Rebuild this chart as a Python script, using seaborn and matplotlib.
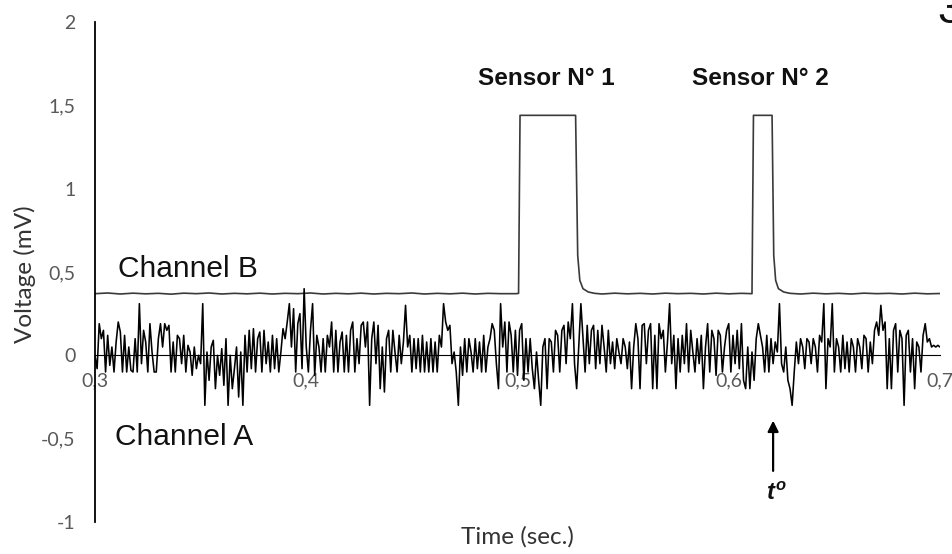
import numpy as np
import pandas as pd
import matplotlib
matplotlib.use("Agg")
import matplotlib.pyplot as plt
import seaborn as sns

# ---------------- data ----------------
channel_a = [
    0.00, -0.08, 0.19, 0.10, 0.15, -0.10, 0.12, -0.06, 0.05, -0.10, 0.08, 0.20, 0.14, -0.10, 0.12, -0.10, 0.05, -0.09, -0.10, 0.10,
    -0.10, 0.31, -0.05, 0.15, 0.08, -0.10, 0.19, 0.02, -0.10, -0.10, 0.10, 0.19, 0.05, 0.19, 0.15, 0.18, -0.10, 0.08, -0.10, 0.12,
    0.10, -0.05, 0.12, -0.10, 0.06, 0.02, -0.12, 0.05, -0.08, 0.00, -0.05, 0.31, -0.30, 0.02, -0.15, 0.05, 0.09, -0.20, 0.00, -0.12,
    0.04, -0.18, 0.10, -0.30, 0.00, -0.20, -0.08, 0.05, -0.25, 0.02, -0.30, 0.12, -0.10, 0.15, -0.08, 0.16, -0.10, 0.10, 0.14, -0.10,
    0.15, -0.05, 0.08, -0.10, 0.12, -0.08, 0.10, -0.10, 0.02, 0.16, 0.10, 0.20, 0.31, 0.05, 0.28, -0.10, 0.19, 0.25, -0.08, 0.40,
    0.05, -0.10, 0.15, 0.31, -0.12, 0.12, 0.05, -0.10, 0.10, -0.10, 0.12, 0.05, 0.20, -0.10, 0.15, -0.10, 0.08, 0.14, -0.10, 0.12,
    -0.10, 0.15, 0.20, -0.10, 0.10, -0.05, 0.18, 0.20, 0.05, 0.20, -0.30, 0.10, 0.20, -0.05, 0.18, -0.20, 0.05, -0.22, 0.10, 0.15,
    -0.10, 0.15, 0.02, -0.10, 0.12, -0.05, 0.08, 0.30, 0.05, 0.12, -0.10, 0.10, -0.08, 0.10, -0.10, 0.12, -0.10, 0.08, -0.10, 0.10,
    -0.10, 0.08, -0.10, 0.12, 0.05, 0.31, 0.20, 0.15, 0.18, -0.05, 0.02, -0.10, -0.30, 0.05, -0.12, 0.10, -0.10, 0.10, 0.02, -0.10,
    0.10, -0.08, 0.08, -0.10, 0.12, -0.10, 0.05, 0.10, 0.19, 0.15, -0.05, -0.20, 0.31, 0.05, 0.20, -0.10, 0.20, 0.12, -0.10, 0.15,
    -0.12, 0.15, 0.19, -0.15, 0.10, -0.10, 0.10, -0.08, -0.20, 0.02, -0.15, -0.30, 0.05, 0.10, -0.20, 0.10, 0.08, -0.10, 0.15, 0.12,
    -0.10, 0.15, 0.18, -0.05, 0.20, 0.10, 0.31, -0.05, -0.20, 0.05, 0.31, 0.10, -0.10, 0.18, -0.05, 0.15, 0.18, -0.08, 0.15, -0.05,
    0.18, 0.05, -0.10, 0.15, -0.05, 0.08, -0.08, 0.10, 0.02, -0.05, 0.10, 0.05, -0.08, 0.08, -0.20, 0.05, 0.19, 0.10, -0.20, 0.18,
    0.19, -0.05, 0.15, 0.19, -0.20, 0.12, -0.20, 0.19, 0.10, 0.15, -0.10, 0.08, 0.31, -0.05, 0.12, -0.20, 0.10, -0.10, 0.12, -0.05,
    0.19, -0.10, 0.15, 0.02, -0.10, 0.10, -0.05, 0.12, -0.20, 0.05, 0.19, -0.10, 0.15, 0.10, -0.12, 0.15, 0.12, -0.10, 0.05, 0.15,
    0.19, -0.10, 0.12, -0.05, 0.15, -0.08, 0.19, -0.15, -0.20, 0.05, -0.20, 0.02, -0.15, 0.10, 0.19, 0.12, 0.05, -0.10, 0.12, -0.10,
    0.10, -0.05, 0.08, 0.02, 0.31, -0.05, -0.10, 0.05, -0.15, -0.20, -0.30, -0.10, 0.08, -0.05, 0.10, 0.05, -0.08, 0.10, 0.08, -0.05,
    0.10, 0.05, -0.10, 0.12, 0.08, 0.31, -0.20, 0.10, 0.05, 0.31, -0.10, 0.10, 0.05, -0.10, 0.12, -0.08, 0.08, -0.10, 0.10, 0.05,
    -0.10, 0.10, 0.05, -0.08, 0.12, 0.10, -0.10, 0.08, -0.05, 0.15, 0.20, 0.12, 0.30, 0.15, 0.20, -0.20, 0.10, -0.20, 0.15, 0.19,
    -0.10, 0.15, 0.10, -0.30, 0.12, 0.15, -0.10, 0.10, -0.20, 0.08, 0.05, -0.10, 0.12, 0.19, 0.08, 0.10, 0.05, 0.06, 0.05, 0.06,
    0.05,
]
channel_a_time = np.round(0.300 + 0.001 * np.arange(len(channel_a)), 3)

# Channel B: baseline with the two sensor pulses
channel_b_time = [
    0.300, 0.306, 0.312, 0.318, 0.324, 0.330, 0.336, 0.342, 0.348, 0.354, 0.360, 0.366, 0.372, 0.378,
    0.384, 0.390, 0.396, 0.402, 0.408, 0.414, 0.420, 0.426, 0.432, 0.438, 0.444, 0.450, 0.456, 0.462,
    0.468, 0.474, 0.480, 0.486, 0.492, 0.4995, 0.5005, 0.5012, 0.5275, 0.5285, 0.5295, 0.5310, 0.5335,
    0.5365, 0.540, 0.546, 0.552, 0.558, 0.564, 0.570, 0.576, 0.582, 0.588, 0.594, 0.600, 0.606, 0.6110,
    0.6117, 0.6205, 0.6213, 0.6222, 0.6235, 0.6260, 0.6290, 0.634, 0.640, 0.646, 0.652, 0.658, 0.664,
    0.670, 0.676, 0.682, 0.688, 0.694, 0.700,
]
channel_b = [
    0.370, 0.374, 0.368, 0.373, 0.369, 0.372, 0.367, 0.373, 0.370, 0.374, 0.368, 0.372, 0.369, 0.373,
    0.368, 0.372, 0.370, 0.374, 0.368, 0.372, 0.369, 0.373, 0.368, 0.372, 0.370, 0.374, 0.368, 0.372,
    0.369, 0.373, 0.368, 0.372, 0.370, 0.370, 0.372, 1.440, 1.440, 0.600, 0.450, 0.400, 0.380,
    0.372, 0.368, 0.373, 0.369, 0.372, 0.368, 0.373, 0.370, 0.372, 0.368, 0.373, 0.369, 0.372, 0.370,
    1.440, 1.440, 0.600, 0.450, 0.400, 0.380, 0.372, 0.368, 0.373, 0.369, 0.372, 0.368, 0.373,
    0.370, 0.372, 0.368, 0.373, 0.369, 0.371,
]

x_ticks = [0.3, 0.4, 0.5, 0.6, 0.7]
x_tick_labels = ["0,3", "0,4", "0,5", "0,6", "0,7"]
y_ticks = [-1, -0.5, 0, 0.5, 1, 1.5, 2]
y_tick_labels = ["-1", "-0,5", "0", "0,5", "1", "1,5", "2"]

df_a = pd.DataFrame({"time": channel_a_time, "voltage": channel_a})
df_b = pd.DataFrame({"time": channel_b_time, "voltage": channel_b})

# ---------------- plot ----------------
sns.set_theme(style="white")
plt.rcParams["font.family"] = ["Liberation Sans", "DejaVu Sans"]
plt.rcParams["mathtext.fontset"] = "custom"
plt.rcParams["mathtext.it"] = "Liberation Sans:italic:bold"
plt.rcParams["mathtext.rm"] = "Liberation Sans:bold"

fig = plt.figure(figsize=(9.52, 5.54), dpi=100)
ax = fig.add_axes([95 / 952, 32 / 554, 845 / 952, 500 / 554])

sns.lineplot(data=df_b, x="time", y="voltage", ax=ax, color="#3a3a3a", lw=1.2,
             sort=False, estimator=None)
sns.lineplot(data=df_a, x="time", y="voltage", ax=ax, color="black", lw=1.15,
             sort=False, estimator=None)

ax.set_xlim(0.3, 0.7)
ax.set_ylim(-1, 2)

for s in ["top", "right"]:
    ax.spines[s].set_visible(False)
ax.spines["bottom"].set_position(("data", 0))
ax.spines["bottom"].set_color("black")
ax.spines["bottom"].set_linewidth(0.8)
ax.spines["left"].set_color("black")
ax.spines["left"].set_linewidth(1.3)

ax.set_xticks(x_ticks)
ax.set_xticklabels(x_tick_labels, family=["Lato", "DejaVu Sans"], fontsize=14, color="#595959")
ax.set_yticks(y_ticks)
ax.set_yticklabels(y_tick_labels, family=["Lato", "DejaVu Sans"], fontsize=14, color="#595959")
ax.tick_params(axis="x", length=0, pad=12)
ax.tick_params(axis="y", length=0, pad=14)
ax.set_xlabel("")
ax.set_ylabel("")

fig.text(517 / 952, 1 - 537 / 554, "Time (sec.)", ha="center", va="center",
         family=["Lato", "DejaVu Sans"], fontsize=17.5, color="#333333")
fig.text(25 / 952, 1 - 274 / 554, "Voltage (mV)", ha="center", va="center", rotation=90,
         family=["Lato", "DejaVu Sans"], fontsize=17.5, color="#333333")

ax.text(0.5135, 1.66, "Sensor N° 1", ha="center", va="center", fontsize=17.5,
        fontweight="bold", color="#111111")
ax.text(0.6149, 1.66, "Sensor N° 2", ha="center", va="center", fontsize=17.5,
        fontweight="bold", color="#111111")
ax.text(0.3109, 0.52, "Channel B", ha="left", va="center", fontsize=21.5, color="#111111")
ax.text(0.3095, -0.49, "Channel A", ha="left", va="center", fontsize=21.5, color="#111111")

ax.annotate("", xy=(0.621, -0.375), xytext=(0.621, -0.71),
            arrowprops=dict(arrowstyle="-|>", color="black", lw=1.6, mutation_scale=16))
ax.text(0.6225, -0.83, r"$t^{o}$", ha="center", va="center", fontsize=17, color="#111111")

fig.text(937 / 952, 1 - 23 / 554, "3", ha="left", va="baseline", fontsize=32, color="#111111")

fig.savefig("out.png", dpi=100)
